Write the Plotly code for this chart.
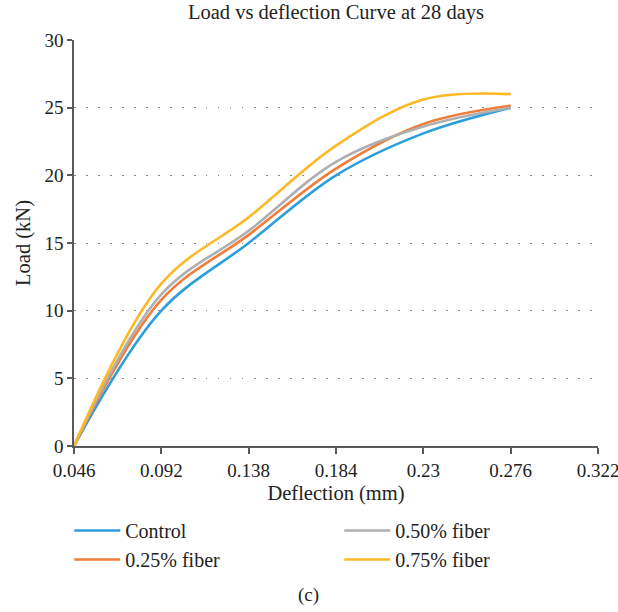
import plotly.graph_objects as go

deflection = [0.046, 0.092, 0.138, 0.184, 0.23, 0.276]
control = [0, 10.0, 15.0, 20.0, 23.1, 25.0]
fiber_025 = [0, 10.8, 15.6, 20.5, 23.8, 25.15]
fiber_050 = [0, 11.2, 15.9, 21.0, 23.6, 25.0]
fiber_075 = [0, 12.0, 16.9, 22.2, 25.6, 26.0]

x_ticks = [0.046, 0.092, 0.138, 0.184, 0.23, 0.276, 0.322]
x_ticktext = ["0.046", "0.092", "0.138", "0.184", "0.23", "0.276", "0.322"]
y_ticks = [0, 5, 10, 15, 20, 25, 30]

series = [
    ("Control", control, "#2A9FDB", 1),
    ("0.25% fiber", fiber_025, "#F07D3A", 3),
    ("0.50% fiber", fiber_050, "#AFAFAF", 2),
    ("0.75% fiber", fiber_075, "#FDB825", 4),
]

FONT = "Liberation Serif"
TXT = "#222222"
fig = go.Figure()
for name, vals, color, rank in series:
    fig.add_trace(go.Scatter(
        x=deflection, y=vals, name=name, mode="lines",
        line=dict(color=color, width=2.6, shape="spline", smoothing=1.0),
        legendrank=rank,
    ))

fig.update_layout(
    width=618, height=612,
    margin=dict(l=74, r=20, t=40, b=166, autoexpand=False),
    paper_bgcolor="white", plot_bgcolor="white",
    font=dict(family=FONT, size=19, color=TXT),
    title=dict(text="Load vs deflection Curve at 28 days", x=0.5, xref="paper",
               xanchor="center", y=0.993, yanchor="top",
               font=dict(family=FONT, size=20.5, color=TXT)),
    showlegend=True,
    legend=dict(orientation="h", x=-0.009, xanchor="left", y=-0.160, yanchor="top",
                entrywidth=209, entrywidthmode="pixels", traceorder="normal",
                font=dict(family=FONT, size=20, color=TXT),
                itemwidth=46, tracegroupgap=0),
    xaxis=dict(
        range=[0.046, 0.322], tickvals=x_ticks, ticktext=x_ticktext,
        showline=True, linecolor="#5a5a5a", linewidth=1.5,
        ticks="outside", ticklen=6, tickcolor="#5a5a5a", tickwidth=1.5,
        showgrid=False, zeroline=False, ticklabeloverflow="allow", automargin=False,
        title=dict(text="Deflection (mm)", standoff=6, font=dict(family=FONT, size=20.5)),
        tickfont=dict(family=FONT, size=19),
    ),
    yaxis=dict(
        range=[0, 30], tickvals=y_ticks, automargin=False,
        showline=True, linecolor="#5a5a5a", linewidth=1.5,
        ticks="outside", ticklen=5, tickcolor="#5a5a5a", tickwidth=1.5,
        showgrid=True, gridcolor="#8a8a8a", gridwidth=1, griddash="1.5px,10.5px",
        zeroline=False,
        title=dict(text="Load (kN)", standoff=8, font=dict(family=FONT, size=20.5)),
        tickfont=dict(family=FONT, size=19),
    ),
    annotations=[dict(text="(c)", xref="paper", yref="paper", x=0.448, y=-0.367,
                      xanchor="center", yanchor="middle", showarrow=False,
                      font=dict(family=FONT, size=19, color=TXT))],
)

fig.write_html("out.html")
